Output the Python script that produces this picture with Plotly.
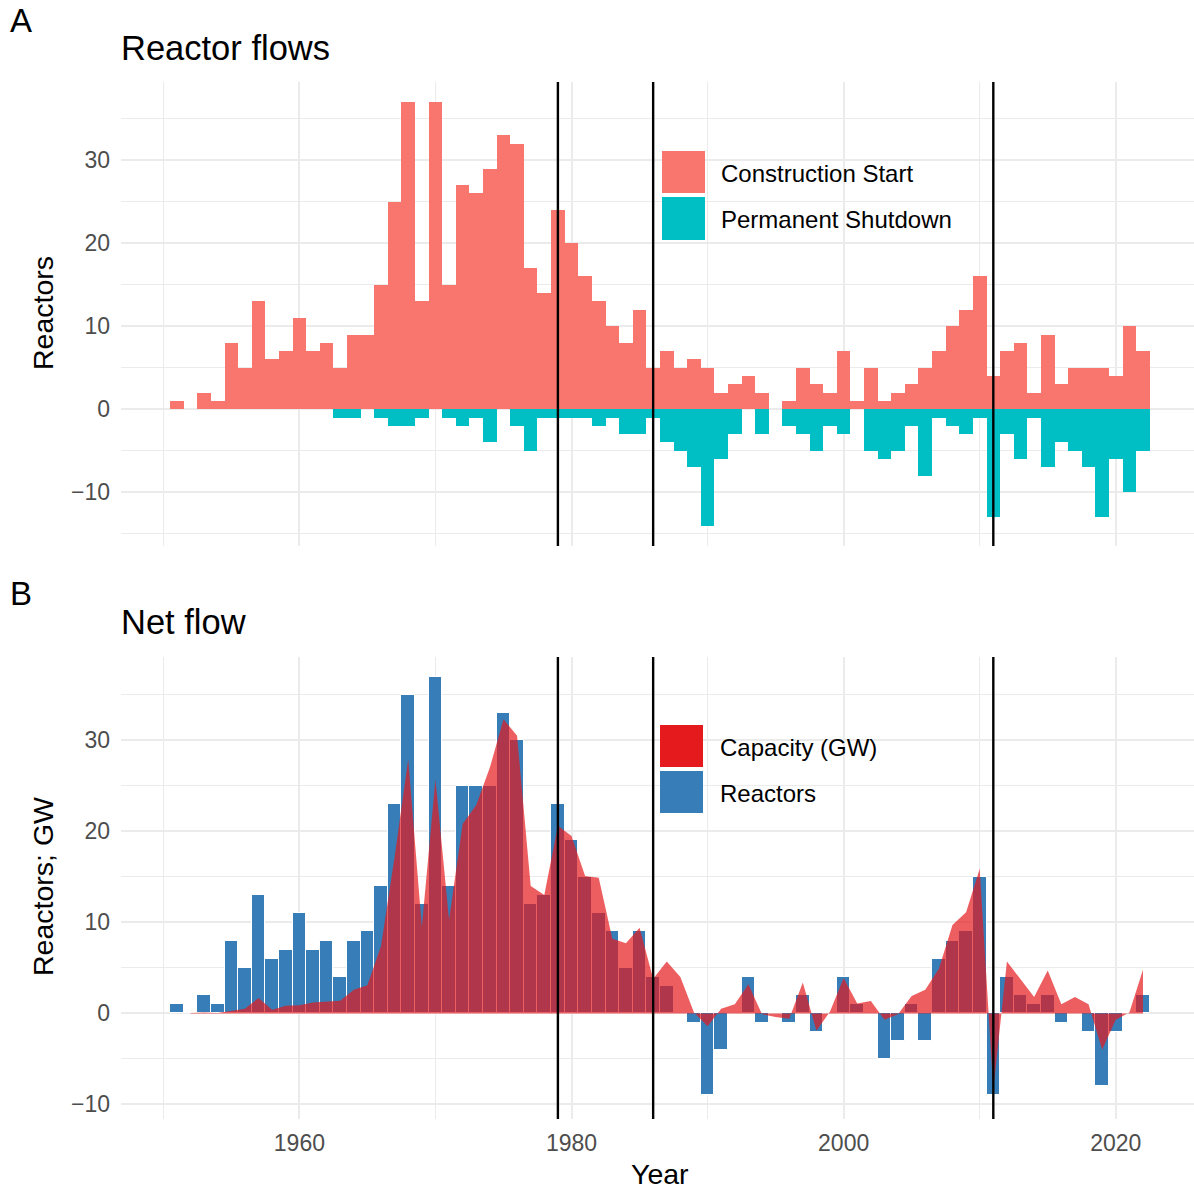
import plotly.graph_objects as go

W, H = 1194, 1189

years = list(range(1951, 2023))

construction_start = [1, 0, 2, 1, 8, 5, 13, 6, 7, 11, 7, 8, 5, 9, 9, 15, 25, 37, 13, 37,
                      15, 27, 26, 29, 33, 32, 17, 14, 24, 20, 16, 13, 10, 8, 12, 5, 7, 5, 6, 5,
                      2, 3, 4, 2, 0, 1, 5, 3, 2, 7, 1, 5, 1, 2, 3, 5, 7, 10, 12, 16,
                      4, 7, 8, 2, 9, 3, 5, 5, 5, 4, 10, 7]

permanent_shutdown = [0, 0, 0, 0, 0, 0, 0, 0, 0, 0, 0, 0, 1, 1, 0, 1, 2, 2, 1, 0,
                      1, 2, 1, 4, 0, 2, 5, 1, 1, 1, 1, 2, 1, 3, 3, 1, 4, 5, 7, 14,
                      6, 3, 0, 3, 0, 2, 3, 5, 2, 3, 0, 5, 6, 5, 2, 8, 1, 2, 3, 1,
                      13, 3, 6, 1, 7, 4, 5, 7, 13, 6, 10, 5]

net_reactors = [1, 0, 2, 1, 8, 5, 13, 6, 7, 11, 7, 8, 4, 8, 9, 14, 23, 35, 12, 37,
                14, 25, 25, 25, 33, 30, 12, 13, 23, 19, 15, 11, 9, 5, 9, 4, 3, 0, -1, -9,
                -4, 0, 4, -1, 0, -1, 2, -2, 0, 4, 1, 0, -5, -3, 1, -3, 6, 8, 9, 15,
                -9, 4, 2, 1, 2, -1, 0, -2, -8, -2, 0, 2]

net_capacity_gw = [None, 0.05, 0.1, 0.05, 0.25, 0.5, 1.7, 0.4, 0.85, 0.9, 1.2, 1.3, 1.4, 2.6, 3.1, 7.4, 17.2, 27.9, 9.5, 25.7,
                   10.3, 20.8, 22.9, 27.0, 32.3, 30.5, 14.0, 13.0, 20.6, 19.5, 15.1, 14.9, 8.2, 7.7, 9.4, 3.8, 5.7, 4.0, 0.1, -1.4,
                   0.5, 1.0, 3.2, -0.1, -0.4, -0.6, 3.4, -1.9, 0.2, 3.9, 1.1, 1.35, -0.7, -0.1, 1.9, 2.6, 4.9, 9.7, 11.1, 15.9,
                   -8.4, 5.7, 3.7, 1.8, 4.7, 1.0, 1.8, 1.0, -4.0, -0.7, 0.1, 4.8]

event_years = [1979, 1986, 2011]

x_major = [1960, 1980, 2000, 2020]
x_minor = [1950, 1970, 1990, 2010]
y_major = [-10, 0, 10, 20, 30]
y_major_text = ["\u221210", "0", "10", "20", "30"]
y_minor = [-15, -5, 5, 15, 25, 35]

C_START = "#F8766D"
C_SHUT = "#00BFC4"
C_CAP = "#E41A1C"
C_REAC = "#377EB8"
GRID = "#EBEBEB"
FONT = "Liberation Sans, Arial, sans-serif"

fig = go.Figure()

fig.add_trace(go.Bar(x=years, y=construction_start, width=1, marker=dict(color=C_START, line=dict(width=0)),
                     xaxis="x", yaxis="y", showlegend=False, name="Construction Start"))
fig.add_trace(go.Bar(x=years, y=[-v for v in permanent_shutdown], width=1, marker=dict(color=C_SHUT, line=dict(width=0)),
                     xaxis="x", yaxis="y", showlegend=False, name="Permanent Shutdown"))
fig.add_trace(go.Bar(x=years, y=net_reactors, width=1, marker=dict(color=C_REAC, line=dict(width=1, color="white")),
                     xaxis="x2", yaxis="y2", showlegend=False, name="Reactors"))
fig.add_trace(go.Scatter(x=years, y=net_capacity_gw, mode="lines", line=dict(width=0, color="rgba(228,26,28,0)"),
                         fill="tozeroy", fillcolor="rgba(228,26,28,0.7)",
                         xaxis="x2", yaxis="y2", showlegend=False, name="Capacity (GW)"))

def px_x(p):
    return p / W

def px_y(p):
    return 1 - p / H

xrange = [1946.89, 2025.75]
xdom = [121 / W, 1.0]
ydomA = [px_y(546), px_y(82)]
ydomB = [px_y(1119), px_y(657)]

tickfont = dict(family=FONT, size=23, color="#4D4D4D")

common_x = dict(range=xrange, domain=xdom, tickvals=x_major, showgrid=True, gridcolor=GRID, gridwidth=2,
                zeroline=False, showline=False, ticks="", tickfont=tickfont,
                minor=dict(tickvals=x_minor, showgrid=True, gridcolor=GRID, gridwidth=1.1))
common_y = dict(tickvals=y_major, ticktext=y_major_text, showgrid=True, gridcolor=GRID, gridwidth=2,
                zeroline=False, showline=False, ticks="", tickfont=tickfont, ticklabelstandoff=10,
                minor=dict(tickvals=y_minor, showgrid=True, gridcolor=GRID, gridwidth=1.1))

fig.update_layout(
    width=W, height=H,
    margin=dict(l=0, r=0, t=0, b=0),
    paper_bgcolor="white", plot_bgcolor="white",
    barmode="overlay", bargap=0,
    font=dict(family=FONT, color="black"),
    xaxis=dict(common_x, anchor="y", showticklabels=False),
    yaxis=dict(common_y, domain=ydomA, range=[-16.47, 39.43], anchor="x"),
    xaxis2=dict(common_x, anchor="y2", showticklabels=True, ticklabelstandoff=8),
    yaxis2=dict(common_y, domain=ydomB, range=[-11.6, 39.15], anchor="x2"),
)

shapes = []
for yr in event_years:
    shapes.append(dict(type="line", xref="x", yref="y domain", x0=yr, x1=yr, y0=0, y1=1,
                       line=dict(color="black", width=2.4)))
    shapes.append(dict(type="line", xref="x2", yref="y2 domain", x0=yr, x1=yr, y0=0, y1=1,
                       line=dict(color="black", width=2.4)))

# legend keys
def key(x0, y0, x1, y1, color):
    return dict(type="rect", xref="paper", yref="paper", x0=px_x(x0), x1=px_x(x1), y0=px_y(y1), y1=px_y(y0),
                fillcolor=color, line=dict(width=0), layer="above")

shapes += [key(662, 151, 705, 193, C_START), key(662, 197, 705, 240, C_SHUT),
           key(660, 725, 703, 767, C_CAP), key(660, 771, 703, 813, C_REAC)]
fig.update_layout(shapes=shapes)

def ann(text, x, y, size, xanchor="left", yanchor="middle", angle=0, color="black"):
    return dict(text=text, x=px_x(x), y=px_y(y), xref="paper", yref="paper", showarrow=False,
                xanchor=xanchor, yanchor=yanchor, textangle=angle,
                font=dict(family=FONT, size=size, color=color))

annotations = [
    ann("A", 8, 20, 33),
    ann("B", 8, 593, 33),
    ann("Reactor flows", 119, 48, 34.5),
    ann("Net flow", 119, 622, 34.5),
    ann("Reactors", 43, 313, 28.5, xanchor="center", angle=-90),
    ann("Reactors; GW", 43, 887, 28.5, xanchor="center", angle=-90),
    ann("Year", 660, 1174, 28.5, xanchor="center"),
    ann("Construction Start", 719, 173, 24),
    ann("Permanent Shutdown", 719, 219, 24),
    ann("Capacity (GW)", 718, 747, 24),
    ann("Reactors", 718, 793, 24),
]
fig.update_layout(annotations=annotations)

fig.write_html("out.html")
